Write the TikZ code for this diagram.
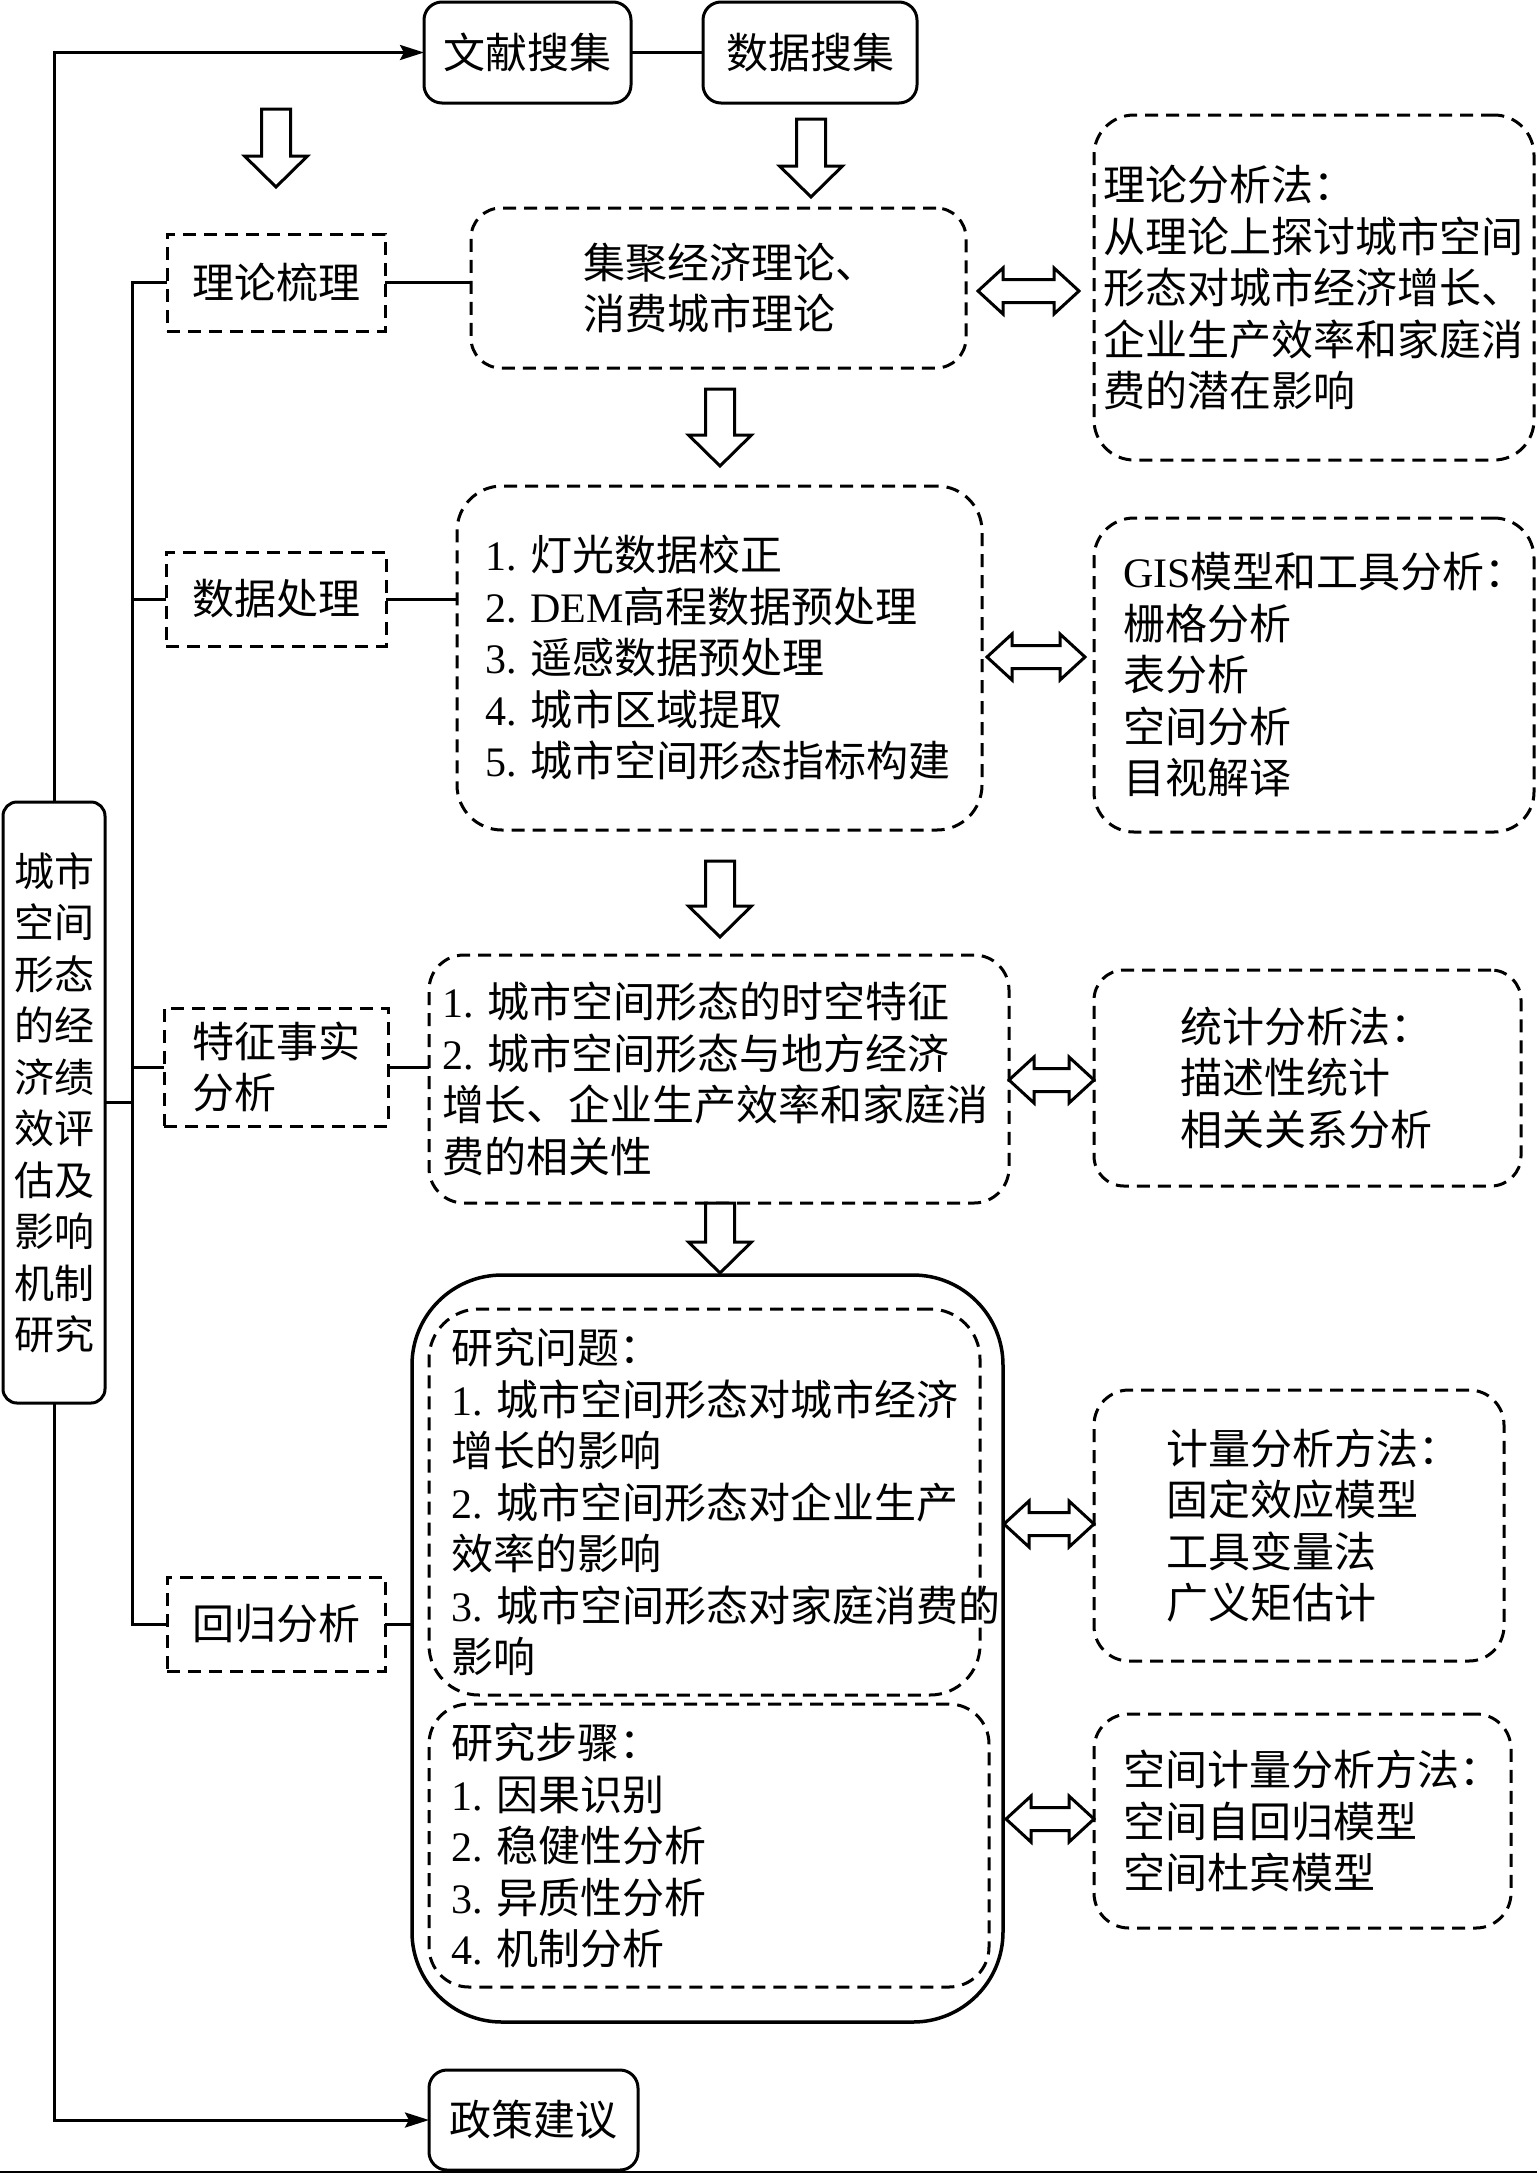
\documentclass[tikz,border=0pt]{standalone}
\usepackage{fontspec}
\setmainfont{Noto Sans CJK SC}
\newfontfamily\latnfont{Liberation Serif}
\newcommand\latn[1]{{\latnfont #1}}
\usetikzlibrary{arrows.meta,calc}
\newcommand\blockdown[3]{%
  \draw[blk] (#1-14.5,#2) -- (#1+14.5,#2) -- (#1+14.5,#3-31) -- (#1+31.5,#3-31) -- (#1,#3)
    -- (#1-31.5,#3-31) -- (#1-14.5,#3-31) -- cycle;}
\newcommand\dblarrow[3]{%
  \draw[blk] (#1,#3) -- (#1+25,#3-23) -- (#1+25,#3-11.5) -- (#2-25,#3-11.5) -- (#2-25,#3-23)
    -- (#2,#3) -- (#2-25,#3+23) -- (#2-25,#3+11.5) -- (#1+25,#3+11.5) -- (#1+25,#3+23) -- cycle;}
\begin{document}
\begin{tikzpicture}[x=1pt,y=-1pt,
  every node/.style={inner sep=0pt, outer sep=0pt},
  bigfont/.style={font=\fontsize{42}{51.5}\selectfont},
  solidbox/.style={draw, line width=3pt, rounded corners=18pt, bigfont, align=center},
  dbox/.style={draw, line width=3pt, dash pattern=on 13pt off 8pt, bigfont, align=center},
  txt/.style={bigfont, align=left, anchor=west},
  conn/.style={line width=3pt},
  blk/.style={draw, line width=3pt, fill=white, line join=miter},
  tip/.style={-{Stealth[length=24pt,width=15pt,inset=4pt]}}
]
\useasboundingbox (0,0) rectangle (1537,2174);

% top boxes
\node[solidbox, minimum width=207pt, minimum height=101pt] (wx) at (527.5,52.5) {文献搜集};
\node[solidbox, minimum width=214pt, minimum height=101pt] (sj) at (810,52.5) {数据搜集};

% left branch boxes
\node[dbox, minimum width=218pt, minimum height=97pt] (ll) at (276,282.5) {理论梳理};
\node[dbox, minimum width=220pt, minimum height=94pt] (cl) at (276,599) {数据处理};
\node[dbox, minimum width=224pt, minimum height=118pt] (tz) at (276,1067) {};
\node[txt] (tzt) at ($(tz.west)+(28,0)$) {特征事实\\分析};
\node[dbox, minimum width=218pt, minimum height=94pt] (hg) at (276,1624) {回归分析};

% middle boxes
\node[dbox, rounded corners=30pt, minimum width=495pt, minimum height=160pt] (jj) at (718.5,288) {};
\node[txt] (jjt) at ($(jj.west)+(112,0)$) {集聚经济理论、\\消费城市理论};

\node[dbox, rounded corners=45pt, minimum width=525pt, minimum height=344pt] (dem) at (719.5,658) {};
\node[txt] (demt) at ($(dem.west)+(28,0)$) {\latn{1. }灯光数据校正\\\latn{2. DEM}高程数据预处理\\\latn{3. }遥感数据预处理\\\latn{4. }城市区域提取\\\latn{5. }城市空间形态指标构建};

\node[dbox, rounded corners=35pt, minimum width=580pt, minimum height=248pt] (tzm) at (719,1079) {};
\node[txt] (tzmt) at ($(tzm.west)+(13,0)$) {\latn{1. }城市空间形态的时空特征\\\latn{2. }城市空间形态与地方经济\\增长、企业生产效率和家庭消\\费的相关性};

\node[draw, line width=3.5pt, rounded corners=90pt, minimum width=591pt, minimum height=747pt] (big) at (707.5,1648.5) {};
\node[dbox, rounded corners=50pt, minimum width=551pt, minimum height=386pt] (wt) at (704.5,1502) {};
\node[txt] (wtt) at ($(wt.west)+(22,0)$) {研究问题：\\\latn{1. }城市空间形态对城市经济\\增长的影响\\\latn{2. }城市空间形态对企业生产\\效率的影响\\\latn{3. }城市空间形态对家庭消费的\\影响};
\node[dbox, rounded corners=40pt, minimum width=560pt, minimum height=283pt] (bz) at (709,1845.5) {};
\node[txt] (bzt) at ($(bz.west)+(22,0)$) {研究步骤：\\\latn{1. }因果识别\\\latn{2. }稳健性分析\\\latn{3. }异质性分析\\\latn{4. }机制分析};

% right boxes
\node[dbox, rounded corners=40pt, minimum width=440pt, minimum height=345pt] (lf) at (1314,287.5) {};
\node[txt] (lft) at ($(lf.west)+(9,0)$) {理论分析法：\\从理论上探讨城市空间\\形态对城市经济增长、\\企业生产效率和家庭消\\费的潜在影响};

\node[dbox, rounded corners=40pt, minimum width=440pt, minimum height=314pt] (gis) at (1314,675) {};
\node[txt] (gist) at ($(gis.west)+(29,0)$) {\latn{GIS}模型和工具分析：\\栅格分析\\表分析\\空间分析\\目视解译};

\node[dbox, rounded corners=30pt, minimum width=427pt, minimum height=216pt] (tj) at (1307.5,1078) {};
\node[txt] (tjt) at ($(tj.west)+(86,0)$) {统计分析法：\\描述性统计\\相关关系分析};

\node[dbox, rounded corners=35pt, minimum width=410pt, minimum height=271pt] (jl) at (1299,1525.5) {};
\node[txt] (jlt) at ($(jl.west)+(72,0)$) {计量分析方法：\\固定效应模型\\工具变量法\\广义矩估计};

\node[dbox, rounded corners=35pt, minimum width=417pt, minimum height=214pt] (kj) at (1302.5,1821) {};
\node[txt] (kjt) at ($(kj.west)+(29,0)$) {空间计量分析方法：\\空间自回归模型\\空间杜宾模型};

% far left box and bottom box
\node[solidbox, rounded corners=14pt, minimum width=102pt, minimum height=601pt, font=\fontsize{40}{51.5}\selectfont] (cs) at (54,1102.5)
  {城市\\空间\\形态\\的经\\济绩\\效评\\估及\\影响\\机制\\研究};
\node[solidbox, minimum width=209pt, minimum height=100pt] (zc) at (533.5,2120) {政策建议};

% connectors
\draw[conn] (wx.east) -- (sj.west);
\draw[conn, tip] (cs.north) |- (wx.west);
\draw[conn, tip] (cs.south) |- (zc.west);

\coordinate (sp1) at (132,282.5);
\coordinate (sp2) at (132,1624);
\draw[conn] (ll.west) -- (sp1) -- (sp2) -- (hg.west);
\draw[conn] (cl.west) -- (cl.west -| sp1);
\draw[conn] (tz.west) -- (tz.west -| sp1);
\draw[conn] (cs.east) -- (cs.east -| sp1);

\draw[conn] (ll.east) -- (ll.east -| jj.west);
\draw[conn] (cl.east) -- (cl.east -| dem.west);
\draw[conn] (tz.east) -- (tz.east -| tzm.west);
\draw[conn] (hg.east) -- (hg.east -| big.west);

% block arrows
\blockdown{276}{109}{187}
\blockdown{811}{119}{197}
\blockdown{720}{389}{466}
\blockdown{720}{861}{937}
\blockdown{720}{1203}{1273}

% double arrows
\dblarrow{978}{1079}{291}
\dblarrow{987}{1085}{657}
\dblarrow{1009}{1094}{1080}
\dblarrow{1004}{1094}{1524}
\dblarrow{1006}{1094}{1819}

% bottom frame line
\draw[line width=2pt] (0,2172) -- (1537,2172);
\end{tikzpicture}
\end{document}
